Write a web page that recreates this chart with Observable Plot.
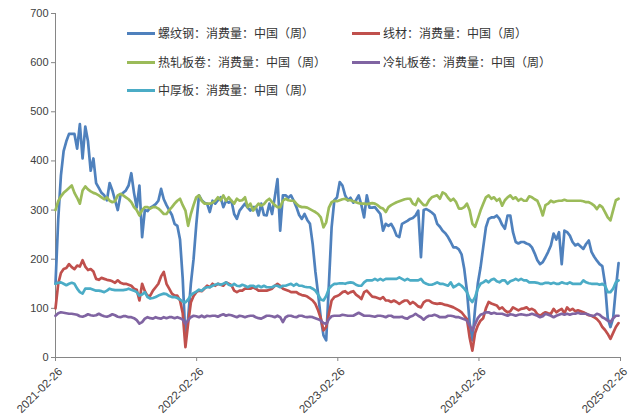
<!DOCTYPE html>
<html><head><meta charset="utf-8">
<script src="https://cdn.jsdelivr.net/npm/d3@7"></script>
<script src="https://cdn.jsdelivr.net/npm/@observablehq/plot@0.6"></script>
<style>
body{margin:0;background:#fff;}
#wrap{position:relative;width:630px;height:419px;}
.item{position:absolute;display:flex;align-items:center;font-family:"Noto Sans CJK SC","Noto Sans",sans-serif;font-size:12px;color:#333;white-space:nowrap;line-height:14px;}
.sw{width:28px;height:3px;margin-right:3px;}
</style></head><body>
<div id="wrap"></div>
<script>
const startDate = "2021-02-26";
const tickLabels = ["2021-02-26","2022-02-26","2023-02-26","2024-02-26","2025-02-26"];
const yTicks = [0,100,200,300,400,500,600,700];
const seriesNames = ["螺纹钢：消费量：中国（周）","线材：消费量：中国（周）","热轧板卷：消费量：中国（周）","冷轧板卷：消费量：中国（周）","中厚板：消费量：中国（周）"];
const seriesColors = ["#4F81BD","#C0504D","#9BBB59","#8064A2","#4BACC6"];

const rebar = [150,280,370,420,440,455,455,455,425,475,
405,470,440,380,405,355,345,335,330,320,
355,340,320,300,330,335,340,350,375,335,
305,350,245,300,298,305,308,312,319,343,
322,310,300,290,272,268,240,160,40,80,
150,200,270,330,320,315,313,296,319,313,
320,326,306,319,315,319,292,282,299,306,
313,305,299,306,306,289,313,290,289,313,
292,326,363,258,330,330,325,330,319,306,
290,282,292,280,272,231,175,130,80,45,
35,150,265,320,326,357,350,330,320,325,
315,320,330,310,285,330,305,305,306,299,
292,258,272,268,272,262,248,245,272,275,
278,282,284,289,299,204,300,302,299,295,
290,272,266,258,253,245,235,224,224,220,
210,180,135,70,35,100,150,183,224,265,
282,285,285,289,282,270,262,289,289,255,
235,232,235,235,232,230,224,212,198,190,
194,204,215,228,252,240,255,190,258,255,
248,235,228,231,226,221,231,238,215,205,
197,190,186,150,80,62,80,140,192];

const wireRod = [100,150,172,180,182,190,184,180,187,185,
198,185,178,180,175,160,158,162,160,158,
157,155,152,157,152,150,150,148,146,140,
138,116,150,135,125,126,136,143,150,165,
174,150,140,130,126,126,116,90,21,70,
112,125,133,136,135,140,146,143,150,146,
150,148,146,153,150,147,136,133,136,136,
140,140,140,143,140,136,136,136,136,138,
140,146,150,146,140,138,136,133,133,133,
129,127,126,124,120,116,109,96,80,55,
62,89,116,123,125,128,133,135,130,133,
135,128,124,119,133,136,130,124,123,121,
119,123,116,116,113,116,113,109,113,116,
116,109,113,109,104,102,112,116,116,112,
110,109,110,109,107,106,104,102,99,96,
92,85,78,40,14,50,65,75,80,100,
113,110,108,106,99,102,96,92,94,102,
99,96,99,100,102,97,99,96,88,85,
89,92,90,89,99,92,96,99,90,102,
96,99,94,96,94,92,89,86,85,82,
78,72,62,56,48,38,50,62,70];

const hotRolled = [300,318,328,335,340,345,350,335,325,313,
340,348,342,338,335,333,330,326,322,326,
319,316,318,330,333,330,326,322,316,306,
300,289,300,306,306,303,306,306,303,298,
292,292,300,306,313,319,323,310,299,268,
292,310,326,330,319,313,313,313,315,319,
326,320,330,319,326,319,313,323,319,320,
326,306,313,299,306,313,309,312,319,323,
316,310,306,306,319,323,320,319,319,313,
308,306,306,305,302,299,296,292,285,265,
275,305,316,319,318,320,322,323,320,320,
318,316,314,313,313,312,313,314,313,310,
305,303,296,306,310,313,316,318,320,322,
323,323,313,310,323,316,310,310,320,326,
328,330,323,336,333,325,319,323,316,303,
303,306,313,299,272,266,282,299,313,326,
330,323,326,319,323,309,320,326,330,323,
326,319,323,319,319,328,326,322,319,306,
289,310,313,319,316,318,319,319,321,319,
319,319,319,319,319,318,316,316,313,309,
302,310,306,296,285,279,300,320,323];

const coldRolled = [85,90,92,91,90,89,89,88,87,84,
83,85,88,86,85,86,89,86,84,83,
85,88,86,83,82,84,84,82,82,80,
76,69,72,79,82,80,79,82,80,79,
82,80,82,82,80,82,80,77,68,76,
82,85,84,82,85,82,85,84,85,85,
83,86,88,85,87,86,84,82,85,84,
82,84,85,85,82,80,79,82,85,85,
84,82,85,82,72,82,85,85,83,82,
85,85,83,82,83,82,80,78,75,70,
68,78,84,85,85,85,87,86,85,85,
85,88,91,88,85,85,85,84,83,85,
85,84,82,85,85,82,82,82,83,80,
79,83,85,89,85,82,77,82,85,85,
87,85,82,82,82,85,85,84,82,82,
80,78,75,65,55,68,80,87,89,92,
92,89,91,89,89,89,87,85,88,87,
85,87,88,87,86,87,89,87,85,82,
84,89,87,85,82,85,87,89,87,89,
87,89,89,91,89,89,89,87,85,85,
89,87,82,79,75,72,80,85,85];

const plate = [150,152,153,150,147,150,152,150,140,133,
130,140,140,140,138,136,136,135,133,136,
140,138,137,137,137,137,138,140,138,136,
133,126,128,133,123,120,121,123,126,128,
130,129,125,123,123,121,118,114,112,118,
127,131,134,138,136,141,143,143,146,148,
150,148,150,153,148,146,150,146,145,148,
146,143,146,146,143,146,143,146,143,143,
143,146,146,143,146,146,148,150,146,150,
146,146,144,143,143,140,136,128,118,116,
125,140,146,150,150,151,151,150,152,153,
152,148,146,146,153,157,157,157,160,157,
160,157,160,160,160,160,160,163,160,157,
160,157,157,157,157,160,153,150,148,148,
150,153,150,150,148,146,153,143,146,150,
146,140,133,119,113,123,140,150,153,157,
153,158,160,155,153,157,157,150,155,157,
160,157,160,157,157,153,153,153,152,150,
150,152,152,150,152,150,150,153,151,150,
153,150,150,150,150,157,153,151,150,150,
150,148,150,146,133,133,140,153,157];

const seriesValues = [rebar, wireRod, hotRolled, coldRolled, plate];
const t0 = new Date(startDate + "T00:00:00Z");
const dates = rebar.map((_, i) => d3.utcDay.offset(t0, 7 * i));
const rows = [];
seriesValues.forEach((arr, s) => arr.forEach((v, i) => rows.push({date: dates[i], value: v, series: seriesNames[s]})));

const tickDates = tickLabels.map(d => new Date(d + "T00:00:00Z"));

const chart = Plot.plot({
  width: 630, height: 419,
  marginLeft: 55, marginRight: 10, marginTop: 13, marginBottom: 62,
  style: {fontFamily: "'Liberation Sans', Arial, sans-serif", fontSize: "11px", color: "#404040", background: "#fff"},
  x: {type: "utc", domain: [tickDates[0], tickDates[tickDates.length - 1]]},
  y: {domain: [0, 700]},
  color: {domain: seriesNames, range: seriesColors},
  marks: [
    Plot.ruleX([tickDates[0]], {stroke: "#868686"}),
    Plot.ruleY([0], {stroke: "#868686"}),
    Plot.axisY({ticks: yTicks, tickSize: 4, tickPadding: 3, stroke: "#868686", label: null}),
    Plot.axisX({ticks: tickDates, tickFormat: d3.utcFormat("%Y-%m-%d"), tickRotate: -45, tickSize: 4, tickPadding: 2, stroke: "#868686", label: null, fontSize: 11.5}),
    Plot.lineY(rows, {x: "date", y: "value", z: "series", stroke: "series", strokeWidth: 2.7, strokeLinejoin: "round"})
  ]
});
const wrap = document.getElementById("wrap");
wrap.appendChild(chart);
// nudge rotated x tick labels to match the reference's placement
chart.querySelectorAll('g[aria-label="x-axis tick label"]').forEach(g => {
  const t = g.getAttribute("transform") || "";
  g.setAttribute("transform", (t + " translate(5,6)").trim());
});

const legendPos = [[127, 33], [352, 33], [127, 62], [352, 62], [127, 90]];
seriesNames.forEach((name, i) => {
  const it = document.createElement("div");
  it.className = "item";
  it.style.left = legendPos[i][0] + "px";
  it.style.top = (legendPos[i][1] - 7) + "px";
  const sw = document.createElement("span");
  sw.className = "sw";
  sw.style.background = seriesColors[i];
  const tx = document.createElement("span");
  tx.textContent = name;
  it.appendChild(sw); it.appendChild(tx);
  wrap.appendChild(it);
});
</script>
</body></html>
